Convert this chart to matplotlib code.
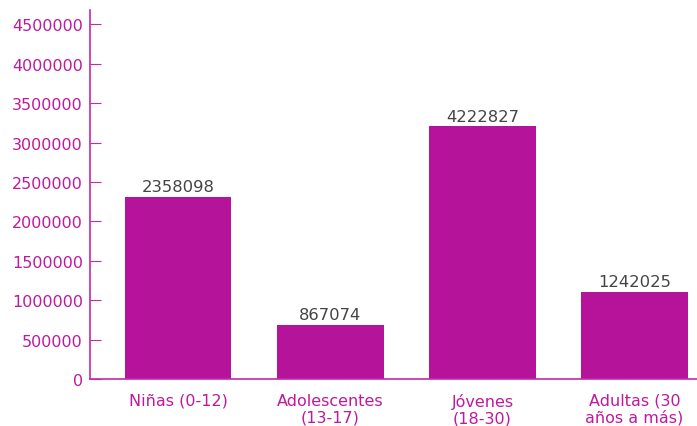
import matplotlib.pyplot as plt
import numpy as np

# values (bar heights), and the printed labels
categories = ["Niñas (0-12)", "Adolescentes\n(13-17)", "Jóvenes\n(18-30)", "Adultas (30\naños a más)"]
bar_heights = [2315000, 687000, 3206000, 1107000]
bar_labels = ["2358098", "867074", "4222827", "1242025"]
yticks = [0, 500000, 1000000, 1500000, 2000000, 2500000, 3000000, 3500000, 4000000, 4500000]

bar_color = "#b5139a"
axis_color = "#c42aa6"
text_color = "#c0189e"

plt.rcParams['font.family'] = ['DejaVu Sans']

fig = plt.figure(figsize=(6.97, 4.27), dpi=100)
ax = fig.add_axes([0.129, 0.11, 0.871, 0.864])

x = np.arange(len(categories))
bars = ax.bar(x, bar_heights, width=0.7, color=bar_color, zorder=2)

for rect, lab in zip(bars, bar_labels):
    ax.annotate(lab, (rect.get_x() + rect.get_width() / 2, rect.get_height()),
                xytext=(0, 2), textcoords="offset points", ha="center", va="bottom",
                fontsize=11.8, color="#444444")

ax.set_xlim(-0.58, 3.41)
ax.set_ylim(0, 4680000)
ax.set_yticks(yticks)
ax.set_yticklabels([str(v) for v in yticks])
ax.set_xticks(x)
ax.set_xticklabels(categories, linespacing=1.1)

for side in ["top", "right"]:
    ax.spines[side].set_visible(False)
ax.spines["left"].set_color(axis_color)
ax.spines["bottom"].set_color(axis_color)
ax.spines["left"].set_linewidth(1.2)
ax.spines["bottom"].set_linewidth(1.2)

ax.tick_params(axis="y", direction="in", length=8, color=axis_color,
               labelcolor=text_color, labelsize=11.5, pad=5)
ax.tick_params(axis="x", length=0, labelcolor=text_color, labelsize=11.5, pad=10)

fig.savefig("out.png", dpi=100)
